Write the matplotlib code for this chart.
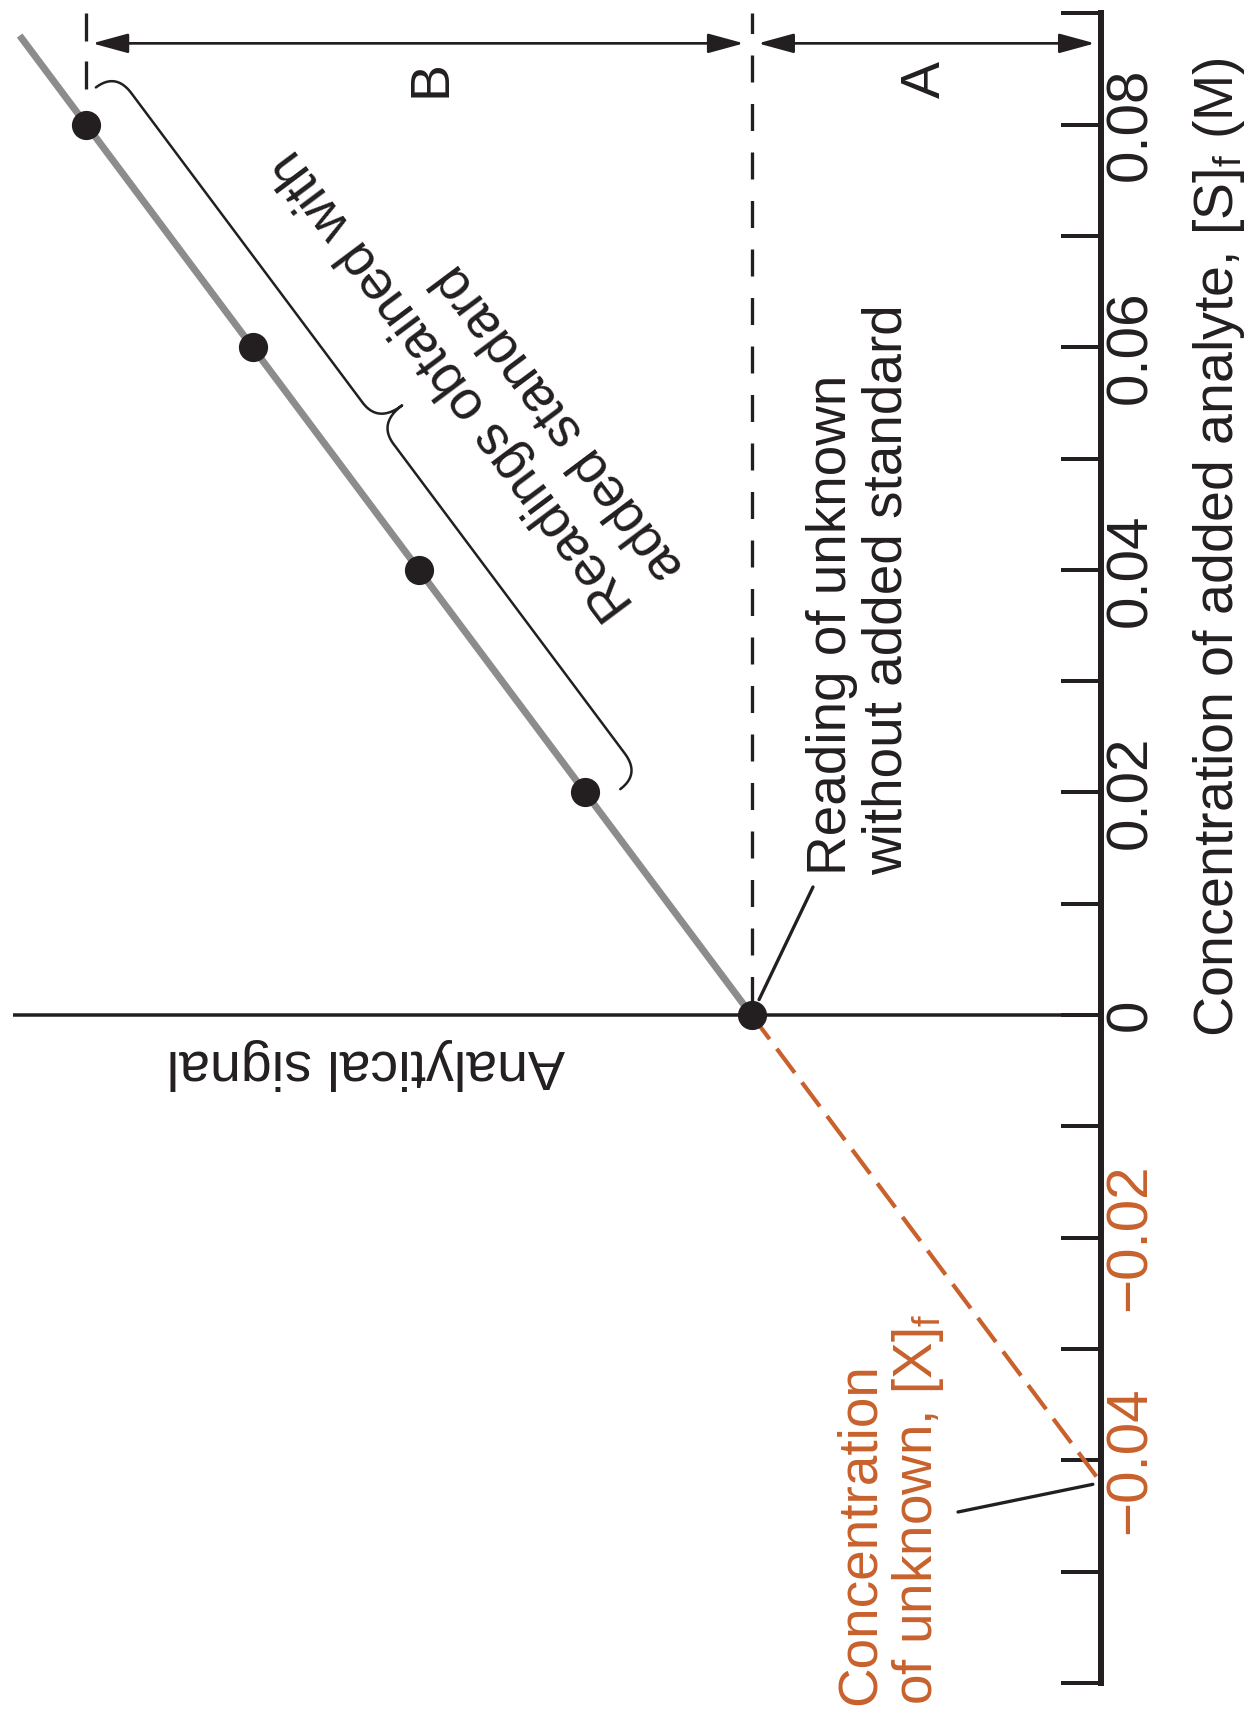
import numpy as np
import matplotlib
matplotlib.use("Agg")
import matplotlib.pyplot as plt
from matplotlib import font_manager

# ---------------- data ----------------
conc_added = [0.00, 0.02, 0.04, 0.06, 0.08]        # [S]f, M
signal = [0.42, 0.62, 0.82, 1.02, 1.22]            # analytical signal, arbitrary units
line_end_conc = 0.088                              # upper end of the drawn calibration line
tick_values = [-0.06, -0.05, -0.04, -0.03, -0.02, -0.01, 0.00,
               0.01, 0.02, 0.03, 0.04, 0.05, 0.06, 0.07, 0.08, 0.09]
tick_labels = ["", "", "\u22120.04", "", "\u22120.02", "", "0",
               "", "0.02", "", "0.04", "", "0.06", "", "0.08", ""]
unknown_labels = ["\u22120.04", "\u22120.02"]
arrow_conc = 0.0873                                # level of the A / B dimension arrows
marker_conc_end = 0.0832                           # lower end of the short mark at the last reading

# ---------------- style ----------------
installed = {f.name for f in font_manager.fontManager.ttflist}
FONT = "Liberation Sans Narrow" if "Liberation Sans Narrow" in installed else "Liberation Sans"
plt.rcParams["font.family"] = [FONT, "DejaVu Sans"]
plt.rcParams["mathtext.fontset"] = "custom"
plt.rcParams["mathtext.rm"] = FONT
plt.rcParams["mathtext.default"] = "regular"
plt.rcParams["lines.scale_dashes"] = False

BLACK = "#231f20"
GREY = "#8c8c8c"
ORANGE = "#c8612c"
FS_TICK = 42
FS_LABEL = 40
FS_NOTE = 39.5
PT = 0.72  # points per pixel at 100 dpi

W, H, DPI = 1251, 1711, 100
fig = plt.figure(figsize=(W / DPI, H / DPI), dpi=DPI)
fig.patch.set_facecolor("white")

ax_left, ax_right, ax_top, ax_bottom = 13, 1101, 13.3, 1683
ax = fig.add_axes([ax_left / W, 1 - ax_bottom / H,
                   (ax_right - ax_left) / W, (ax_bottom - ax_top) / H])
ax.set_xlim(1.308, 0.0)
ax.set_ylim(-0.06, 0.09)
ax.patch.set_alpha(0)


def fpx(x, y):
    """pixel position (from top-left) -> figure fraction"""
    return x / W, 1 - y / H


# ---------------- axes / ticks ----------------
for side in ("left", "top", "bottom"):
    ax.spines[side].set_visible(False)
ax.spines["right"].set_linewidth(6 * PT)
ax.spines["right"].set_color(BLACK)
ax.set_xticks([])
ax.yaxis.tick_right()
ax.set_yticks(tick_values)
ax.set_yticklabels(tick_labels)
ax.tick_params(axis="y", direction="in", length=40 * PT, width=4 * PT,
               color=BLACK, labelcolor=BLACK, labelsize=FS_TICK, pad=2,
               labelrotation=90)
for lbl in ax.get_yticklabels():
    lbl.set_va("center")
    lbl.set_ha("left")
    if lbl.get_text() in unknown_labels:
        lbl.set_color(ORANGE)

# ---------------- calibration line ----------------
slope, intercept = np.polyfit(conc_added, signal, 1)
x_unknown = -intercept / slope
s0, s_last = signal[0], signal[-1]

ax.axhline(0.0, color=BLACK, lw=3.5 * PT, zorder=2)

c_fit = np.array([0.0, line_end_conc])
ax.plot(slope * c_fit + intercept, c_fit, color=GREY, lw=7 * PT,
        solid_capstyle="butt", zorder=3)

c_ext = np.array([0.0, x_unknown])
ax.plot(slope * c_ext + intercept, c_ext, color=ORANGE, lw=4.2 * PT,
        linestyle=(0, (30 * PT, 12 * PT)), zorder=3)

ax.plot([s0, s0], [0.09, 0.0], color=BLACK, lw=3.3 * PT,
        linestyle=(6.5 * PT, (27 * PT, 21.5 * PT)), zorder=2)
ax.plot([s_last, s_last], [0.09, marker_conc_end], color=BLACK, lw=3.3 * PT,
        linestyle=(0, (28 * PT, 20 * PT)), zorder=2)

ax.plot(signal, conc_added, "o", ms=20, color=BLACK, mec=BLACK, zorder=5)

# ---------------- A / B dimension arrows ----------------
arrow_kw = dict(arrowstyle="<|-|>,head_length=1.1,head_width=0.3",
                mutation_scale=20, lw=2.7 * PT, color=BLACK)
ax.annotate("", xy=(s_last, arrow_conc), xytext=(s0, arrow_conc),
            arrowprops=dict(shrinkA=7.7 * PT, shrinkB=6 * PT, **arrow_kw))
ax.annotate("", xy=(s0, arrow_conc), xytext=(0.0, arrow_conc),
            arrowprops=dict(shrinkA=6 * PT, shrinkB=6.3 * PT, **arrow_kw))
fig.text(*fpx(431, 79), "B", rotation=90, ha="center", va="center",
         fontsize=FS_LABEL, color=BLACK)
fig.text(*fpx(926, 79), "A", rotation=90, ha="center", va="center",
         fontsize=FS_LABEL, color=BLACK)

# ---------------- brace along the readings ----------------
p_last = ax.transData.transform((s_last, conc_added[-1]))
p_first = ax.transData.transform((s0, conc_added[0]))
d = (p_first - p_last) / np.hypot(*(p_first - p_last))
n = np.array([-d[1], d[0]])
angle = np.degrees(np.arctan2(-d[1], -d[0]))


def local(t, u):
    return p_last + t * d + u * n


def qbez(a, b, c, num=24):
    s = np.linspace(0, 1, num)[:, None]
    return (1 - s) ** 2 * a + 2 * (1 - s) * s * b + s ** 2 * c


t0, t1 = -24.0, 852.0
tm = 0.5 * (t0 + t1)
u_tip, u_body, u_cusp, r = 30.0, 55.0, 85.0, 26.0
P = lambda t, u: np.array([t, u])
pieces = [
    qbez(P(t0, u_tip), P(t0, u_body), P(t0 + r, u_body)),
    np.array([P(t0 + r, u_body), P(tm - r, u_body)]),
    qbez(P(tm - r, u_body), P(tm, u_body), P(tm, u_cusp)),
    qbez(P(tm, u_cusp), P(tm, u_body), P(tm + r, u_body)),
    np.array([P(tm + r, u_body), P(t1 - r, u_body)]),
    qbez(P(t1 - r, u_body), P(t1, u_body), P(t1, u_tip)),
]
tu = np.vstack(pieces)
disp = np.array([local(t, u) for t, u in tu])
brace = ax.transData.inverted().transform(disp)
ax.plot(brace[:, 0], brace[:, 1], color=BLACK, lw=2.5 * PT, zorder=4,
        solid_capstyle="round")

# anchor = baseline of the last line; first line sits one line-step closer to the brace
tx, ty = ax.transData.inverted().transform(local(713, 205))
ax.text(tx, ty, "Readings obtained with\nadded standard", rotation=angle,
        rotation_mode="anchor", ha="left", va="baseline", fontsize=FS_NOTE,
        color=BLACK, linespacing=1.22, multialignment="left")

# ---------------- other labels ----------------
fig.text(*fpx(1233, 1037), "Concentration of added analyte, [S]$_{f}$ (M)",
         rotation=90, rotation_mode="anchor", ha="left", va="baseline",
         fontsize=FS_LABEL, color=BLACK)
fig.text(*fpx(366, 1064), "Analytical signal", rotation=180,
         ha="center", va="center", fontsize=FS_LABEL, color=BLACK)

fig.text(*fpx(898, 875), "Reading of unknown\nwithout added standard",
         rotation=90, rotation_mode="anchor", ha="left", va="baseline",
         fontsize=FS_NOTE, color=BLACK, linespacing=1.08)
ax.annotate("", xy=(s0, 0.0), xytext=(813, H - 887), textcoords="figure pixels",
            arrowprops=dict(arrowstyle="-", lw=3.3 * PT, color=BLACK,
                            shrinkA=0, shrinkB=12.4))

fig.text(*fpx(929, 1705), "Concentration\nof unknown, [X]$_{f}$",
         rotation=90, rotation_mode="anchor", ha="left", va="baseline",
         fontsize=FS_NOTE, color=ORANGE, linespacing=1.08)
ax.annotate("", xy=(0.0, x_unknown), xytext=(958, H - 1512),
            textcoords="figure pixels",
            arrowprops=dict(arrowstyle="-", lw=3.3 * PT, color=BLACK,
                            shrinkA=0, shrinkB=6))

fig.savefig("out.png", dpi=DPI, facecolor="white")
